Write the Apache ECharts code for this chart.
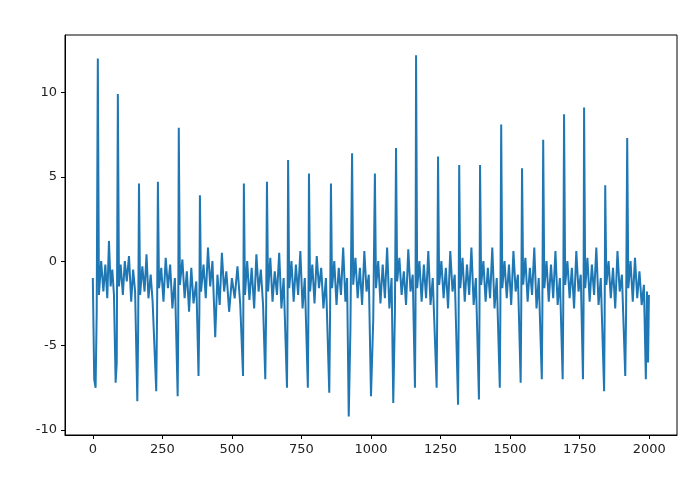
<!DOCTYPE html>
<html>
<head>
<meta charset="utf-8">
<script src="https://cdn.jsdelivr.net/npm/echarts@6/dist/echarts.min.js"></script>
<style>html,body{margin:0;background:#fff}#chart{width:695px;height:494px}</style>
</head>
<body>
<div id="chart"></div>
<script>
// signal samples: [index, value]
const signal = [
  [0,-1],[5,-7],[10,-7.5],[14,-3],[18,12],[22,-2],[30,0],[38,-1.8],[45,-0.2],[52,-2.2],[58,1.2],[64,-1.5],[70,-0.5],[76,-2],[82,-7.2],[86,-6],[90,9.9],[94,-1.5],
  [100,-0.2],[108,-2],[115,0],[122,-1.2],[130,0.3],[138,-2.4],[145,-0.5],[152,-1.8],[160,-8.3],[163,-4],[166,4.6],[170,-2],[178,-0.3],[186,-1.8],[193,0.4],[200,-2.2],[208,-0.8],[215,-2.4],[228,-7.7],[231,-3],[234,4.7],[238,-1.6],
  [246,-0.4],[254,-2.4],[262,0.2],[270,-1.6],[278,-0.2],[286,-2.8],[295,-1],[305,-8],[307,-4],[309,7.9],[313,-1.4],[322,0.1],[330,-2.2],[338,-0.6],[346,-3],[354,-0.4],[362,-2.5],[372,-1.2],[380,-6.8],[383,-3],[385,3.9],[389,-1.8],
  [398,-0.2],[406,-2.2],[414,0.8],[422,-1.5],[430,0],[440,-4.5],[448,-0.8],[456,-2.6],[464,0.5],[472,-1.8],[480,-0.6],[490,-3],[500,-1],[510,-2.2],[520,-0.3],[530,-2.6],[540,-6.8],[541,-3],[543,4.6],[547,-2],
  [555,0],[563,-2.3],[571,-0.4],[580,-2.8],[588,0.4],[596,-1.8],[604,-0.5],[612,-2.6],[620,-7],[623,-3],[626,4.7],[630,-1.8],[638,0.2],[646,-2.4],[654,-0.6],[662,-2],[670,0.5],[678,-2.8],[686,-1],[698,-7.5],[700,-3],[702,6],[706,-1.6],
  [714,0],[722,-2.4],[730,-0.2],[738,-2],[746,0.6],[754,-2.8],[762,-1],[773,-7.5],[775,-3],[777,5.2],[781,-1.8],[789,-0.2],[797,-2.5],[805,0.3],[813,-1.6],[821,-0.4],[829,-2.8],[838,-1],[850,-7.8],[853,-3],[856,4.6],[860,-1.6],
  [868,0],[876,-2.6],[884,-0.4],[892,-2],[900,0.8],[908,-2.4],[914,-1],[920,-9.2],[926,-4],[932,6.4],[936,-1.4],[944,0.2],[952,-2.2],[960,-0.4],[968,-2.6],[976,0.6],[984,-1.8],[992,-0.8],[1000,-8],[1008,-3.5],[1014,5.2],[1018,-1.6],
  [1026,0],[1034,-2.5],[1042,-0.2],[1050,-2.2],[1058,0.8],[1066,-2.8],[1074,-1],[1080,-8.4],[1086,-3],[1090,6.7],[1094,-1.2],[1102,0.2],[1110,-2],[1118,-0.6],[1126,-2.6],[1134,0.7],[1142,-1.8],[1150,-0.8],[1158,-7.5],[1160,-3],[1162,12.2],[1166,-1.6],
  [1174,0],[1182,-2.4],[1190,-0.2],[1198,-2.2],[1206,0.6],[1214,-2.6],[1222,-1],[1236,-7.5],[1238,-3],[1241,6.2],[1245,-1.4],[1253,0],[1261,-2.2],[1269,-0.4],[1277,-2.8],[1285,0.6],[1293,-1.8],[1301,-0.8],[1313,-8.5],[1315,-3.5],[1317,5.7],[1321,-1.6],
  [1329,0.2],[1337,-2.4],[1345,-0.2],[1353,-2],[1361,0.8],[1369,-2.6],[1377,-1],[1388,-8.2],[1390,-3],[1392,5.7],[1396,-1.4],[1404,0],[1412,-2.4],[1420,-0.4],[1428,-2.2],[1436,0.8],[1444,-2.8],[1452,-1],[1463,-7.5],[1465,-3],[1468,8.1],[1472,-1.6],
  [1480,0],[1488,-2.2],[1496,-0.2],[1504,-2.6],[1512,0.6],[1520,-1.8],[1528,-0.8],[1538,-7.2],[1540,-3],[1543,5.5],[1547,-1.4],[1555,0.2],[1563,-2.4],[1571,-0.4],[1579,-2],[1587,0.8],[1595,-2.8],[1603,-1],[1614,-7],[1616,-3],[1619,7.2],[1623,-1.6],
  [1631,0],[1639,-2.4],[1647,-0.2],[1655,-2.2],[1663,0.6],[1671,-2.6],[1679,-1],[1689,-7],[1691,-3],[1694,8.7],[1698,-1.4],[1706,0],[1714,-2.2],[1722,-0.4],[1730,-2.8],[1738,0.6],[1746,-1.8],[1754,-0.8],[1762,-7],[1764,-3],[1766,9.1],[1770,-1.6],
  [1778,0.2],[1786,-2.4],[1794,-0.2],[1802,-2],[1810,0.8],[1818,-2.6],[1826,-1],[1838,-7.7],[1840,-3],[1842,4.5],[1846,-1.4],[1854,0],[1862,-2.2],[1870,-0.4],[1878,-2.8],[1886,0.6],[1894,-1.8],[1902,-0.8],[1914,-6.8],[1917,-3],[1921,7.3],[1925,-1.6],
  [1933,0],[1941,-2.4],[1949,0.2],[1957,-2.2],[1965,-0.6],[1973,-2.6],[1981,-1.4],[1988,-7],[1992,-1.8],[1996,-6],[1999,-2]
];
const xTicks = [0, 250, 500, 750, 1000, 1250, 1500, 1750, 2000];
const yTicks = [-10, -5, 0, 5, 10];

const chart = echarts.init(document.getElementById('chart'));
const axisCommon = {
  axisLine: {show: true, onZero: false, lineStyle: {color: '#000', width: 1}},
  axisTick: {show: true, length: 4, lineStyle: {color: '#000'}},
  axisLabel: {color: '#222', fontSize: 13, fontFamily: 'DejaVu Sans', formatter: v => String(v)},
  splitLine: {show: false}
};
chart.setOption({
  animation: false,
  grid: {left: 65, right: 18, top: 35, bottom: 59},
  xAxis: Object.assign({}, axisCommon, {
    type: 'value', min: -100, max: 2100,
    axisTick: Object.assign({}, axisCommon.axisTick, {customValues: xTicks}),
    axisLabel: Object.assign({}, axisCommon.axisLabel, {customValues: xTicks, margin: 8})
  }),
  yAxis: Object.assign({}, axisCommon, {
    type: 'value', min: -10.3, max: 13.4,
    axisTick: Object.assign({}, axisCommon.axisTick, {customValues: yTicks}),
    axisLabel: Object.assign({}, axisCommon.axisLabel, {customValues: yTicks, margin: 8})
  }),
  series: [{
    type: 'line', data: signal, showSymbol: false,
    lineStyle: {color: '#1f77b4', width: 2}
  }],
  graphic: [{type: 'rect', shape: {x: 65, y: 35, width: 612, height: 400}, style: {fill: 'none', stroke: '#000', lineWidth: 1}, silent: true}]
});
</script>
</body>
</html>
